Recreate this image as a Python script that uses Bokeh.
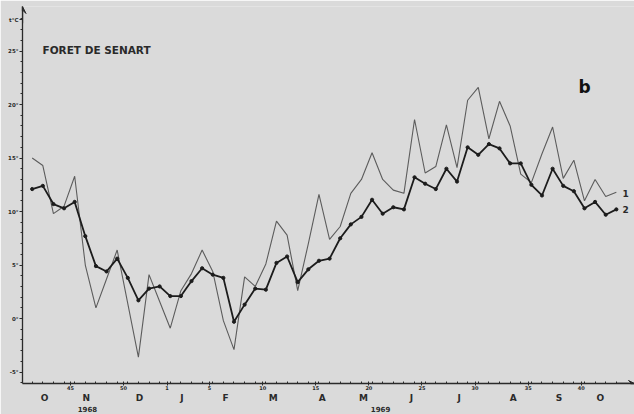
from bokeh.plotting import figure
from bokeh.models import (Range1d, FixedTicker, Label, LinearAxis, Arrow, VeeHead)
from bokeh.embed import file_html
from bokeh.resources import INLINE

# ---- data (weekly mean temperatures, °C), week 41 of 1968 .. week 44 of 1969
series_1 = [15.0, 14.3, 9.8, 10.5, 13.3, 5.0, 1.0, 3.7, 6.4, 1.4, -3.6, 4.1, 1.6, -0.9,
            2.6, 4.2, 6.4, 4.4, -0.2, -2.9, 3.9, 3.0, 5.1, 9.1, 7.8, 2.6, 7.0, 11.6,
            7.4, 8.6, 11.7, 13.0, 15.5, 13.0, 12.0, 11.7, 18.6, 13.6, 14.2, 18.1, 14.1,
            20.4, 21.6, 16.8, 20.3, 18.0, 13.5, 12.7, 15.4, 17.9, 13.1, 14.8, 11.0,
            13.0, 11.4, 11.8]
series_2 = [12.1, 12.4, 10.7, 10.3, 10.9, 7.7, 4.9, 4.4, 5.6, 3.8, 1.7, 2.8, 3.0, 2.1,
            2.1, 3.5, 4.7, 4.1, 3.8, -0.3, 1.3, 2.8, 2.7, 5.2, 5.8, 3.4, 4.6, 5.4, 5.6,
            7.5, 8.8, 9.5, 11.1, 9.8, 10.4, 10.2, 13.2, 12.6, 12.1, 14.0, 12.8, 16.0,
            15.3, 16.3, 15.9, 14.5, 14.5, 12.5, 11.5, 14.0, 12.4, 11.9, 10.3, 10.9,
            9.7, 10.2]
week_index = list(range(len(series_1)))

weeks_1968 = [45, 50]
weeks_1969 = [1, 5, 10, 15, 20, 25, 30, 35, 40]
offset_1968 = -41.4
offset_1969 = 11.7

months = ["O", "N", "D", "J", "F", "M", "A", "M", "J", "J", "A", "S", "O"]
month_pos = [1.16, 5.1, 10.1, 14.1, 18.2, 22.7, 27.3, 31.2, 35.7, 40.2, 45.3, 49.6, 53.5]
years = ["1968", "1969"]
year_pos = [5.2, 32.8]

y_ticks = [-5, 0, 5, 10, 15, 20, 25]
y_unit_pos = 27.9

BG = "#dadada"
INK = "#2a2a2a"

x0, x1 = -0.913, 56.71
y0, y1 = -6.07, 29.16

p = figure(width=634, height=414, output_backend="svg", toolbar_location=None,
           x_range=Range1d(x0, x1), y_range=Range1d(y0, y1),
           min_border_left=22, min_border_right=0, min_border_top=6, min_border_bottom=31)
p.background_fill_color = BG
p.border_fill_color = BG
p.outline_line_color = None
p.grid.visible = False

# x axis (week numbers)
xt = [round(w + offset_1968, 2) for w in weeks_1968] + [round(w + offset_1969, 2) for w in weeks_1969]
xl = [str(w) for w in weeks_1968 + weeks_1969]
xa = p.xaxis[0]
xa.ticker = FixedTicker(ticks=xt, minor_ticks=week_index)
xa.major_label_overrides = {t: l for t, l in zip(xt, xl)}
xa.axis_line_color = INK
xa.axis_line_width = 1.3
xa.major_tick_line_color = INK
xa.major_tick_in = 2
xa.major_tick_out = 2
xa.minor_tick_line_color = INK
xa.minor_tick_in = 2
xa.minor_tick_out = 0
xa.major_label_standoff = 0
xa.major_label_text_font = "DejaVu Sans"
xa.major_label_text_font_size = "5px"
xa.major_label_text_font_style = "bold"
xa.major_label_text_color = INK

# month letters axis
ma = LinearAxis(ticker=FixedTicker(ticks=month_pos),
                major_label_overrides={t: m for t, m in zip(month_pos, months)},
                axis_line_color=None, major_tick_line_color=None, minor_tick_line_color=None,
                major_tick_out=0, major_tick_in=0, major_label_standoff=0,
                major_label_text_font="DejaVu Sans", major_label_text_font_style="bold",
                major_label_text_font_size="9px", major_label_text_color=INK)
p.add_layout(ma, "below")

# year axis
ya = LinearAxis(ticker=FixedTicker(ticks=year_pos),
                major_label_overrides={t: s for t, s in zip(year_pos, years)},
                axis_line_color=None, major_tick_line_color=None, minor_tick_line_color=None,
                major_tick_out=0, major_tick_in=0, major_label_standoff=0,
                major_label_text_font="DejaVu Sans", major_label_text_font_style="bold",
                major_label_text_font_size="7px", major_label_text_color=INK)
p.add_layout(ya, "below")

# y axis
yl = p.yaxis[0]
yl.ticker = FixedTicker(ticks=y_ticks + [y_unit_pos], minor_ticks=list(range(-6, 29)))
overrides = {t: f"{t}°" for t in y_ticks}
overrides[y_unit_pos] = "t°C"
yl.major_label_overrides = overrides
yl.axis_line_color = INK
yl.axis_line_width = 1.3
yl.major_tick_line_color = INK
yl.major_tick_in = 0
yl.major_tick_out = 3
yl.minor_tick_line_color = INK
yl.minor_tick_in = 0
yl.minor_tick_out = 2
yl.major_label_standoff = 1
yl.major_label_text_font = "DejaVu Sans"
yl.major_label_text_font_size = "5.5px"
yl.major_label_text_font_style = "bold"
yl.major_label_text_color = INK

# axis arrows
p.add_layout(Arrow(end=VeeHead(size=7, line_color=INK, fill_color=INK),
                   x_start=x0, y_start=27.6, x_end=x0, y_end=y1,
                   line_color=INK, line_width=1.3))
p.add_layout(Arrow(end=VeeHead(size=6, line_color=INK, fill_color=INK),
                   x_start=55.0, y_start=y0, x_end=x1, y_end=y0,
                   line_color=INK, line_width=1.3))

# series
p.line(week_index, series_1, line_color="#5c5c5c", line_width=1.1)
p.line(week_index, series_2, line_color="#1c1c1c", line_width=1.8)
p.scatter(week_index, series_2, size=3.2, color="#1c1c1c")

# texts
p.add_layout(Label(x=0.97, y=25.14, text="FORET DE SENART", text_align="left",
                   text_baseline="middle", text_font="DejaVu Sans", text_font_style="bold",
                   text_font_size="10.5px", text_color=INK))
p.add_layout(Label(x=52.0, y=21.6, text="b", text_align="center", text_baseline="middle",
                   text_font="DejaVu Sans", text_font_style="bold", text_font_size="17px",
                   text_color="#111111"))
p.add_layout(Label(x=55.87, y=11.7, text="1", text_align="center", text_baseline="middle",
                   text_font="DejaVu Sans", text_font_style="bold", text_font_size="9px",
                   text_color=INK))
p.add_layout(Label(x=55.87, y=10.2, text="2", text_align="center", text_baseline="middle",
                   text_font="DejaVu Sans", text_font_style="bold", text_font_size="9px",
                   text_color=INK))

open("out.html", "w").write(file_html(p, INLINE))
